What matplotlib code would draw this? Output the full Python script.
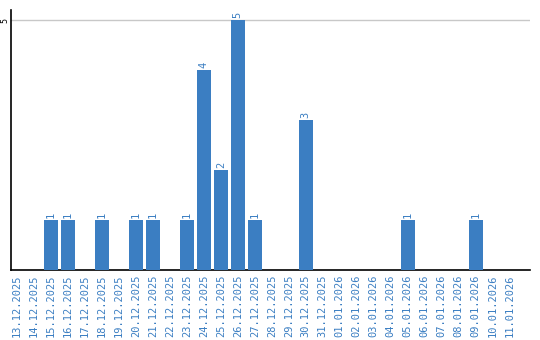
import matplotlib
matplotlib.use("Agg")
import matplotlib.pyplot as plt
import numpy as np

dates = ["13.12.2025", "14.12.2025", "15.12.2025", "16.12.2025", "17.12.2025",
         "18.12.2025", "19.12.2025", "20.12.2025", "21.12.2025", "22.12.2025",
         "23.12.2025", "24.12.2025", "25.12.2025", "26.12.2025", "27.12.2025",
         "28.12.2025", "29.12.2025", "30.12.2025", "31.12.2025", "01.01.2026",
         "02.01.2026", "03.01.2026", "04.01.2026", "05.01.2026", "06.01.2026",
         "07.01.2026", "08.01.2026", "09.01.2026", "10.01.2026", "11.01.2026"]
counts = [0, 0, 1, 1, 0, 1, 0, 1, 1, 0, 1, 4, 2, 5, 1, 0, 0, 3, 0, 0,
          0, 0, 0, 1, 0, 0, 0, 1, 0, 0]
yticks = [5]

blue = "#3b7ec2"
fig = plt.figure(figsize=(5.4, 3.4), dpi=100)
ax = fig.add_axes([11/540, 70/340, 519/540, 260/340])
x = np.arange(len(dates))
ax.bar(x, counts, width=0.82, color=blue, zorder=3)
for xi, v in zip(x, counts):
    if v > 0:
        ax.text(xi, v + 0.04, str(v), rotation=90, ha="center", va="bottom",
                color=blue, fontsize=7.5, family="DejaVu Sans Mono")
ax.set_xlim(-0.35, 30.2)
ax.set_ylim(0, 5.2)
ax.set_yticks(yticks)
ax.set_yticklabels([str(t) for t in yticks], rotation=90, va="center",
                   fontsize=6, family="DejaVu Sans Mono")
ax.yaxis.grid(True, color="#c8c8c8", linewidth=1, zorder=0)
ax.tick_params(axis="y", length=0, pad=1)
ax.set_xticks(x)
ax.set_xticklabels(dates, rotation=90, color=blue, fontsize=7.5,
                   family="DejaVu Sans Mono")
ax.tick_params(axis="x", length=0, pad=3)
for s in ["top", "right"]:
    ax.spines[s].set_visible(False)
ax.spines["left"].set_color("black")
ax.spines["bottom"].set_color("black")
ax.spines["left"].set_linewidth(1.2)
ax.spines["bottom"].set_linewidth(1.2)
fig.savefig("out.png", dpi=100)
